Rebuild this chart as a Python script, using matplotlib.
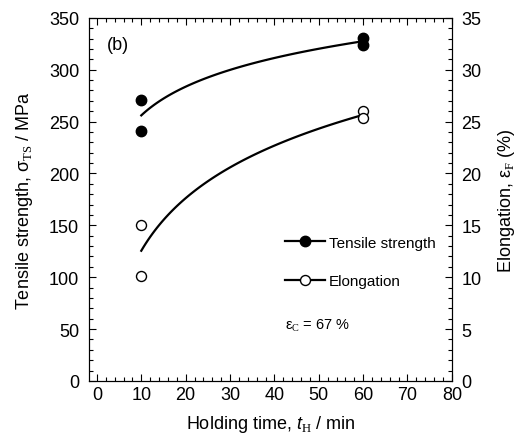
import numpy as np
import matplotlib
matplotlib.use("Agg")
import matplotlib.pyplot as plt
from matplotlib.lines import Line2D
from matplotlib.ticker import MultipleLocator

plt.rcParams['font.family'] = ['Liberation Sans', 'DejaVu Sans']
plt.rcParams['mathtext.fontset'] = 'custom'
plt.rcParams['mathtext.rm'] = 'Liberation Serif'
plt.rcParams['mathtext.it'] = 'Liberation Sans:italic'

# Data
time_ts = [10, 10, 60, 60]
tensile = [271, 241, 331, 324]          # MPa
time_el = [10, 10, 60, 60]
elong = [15.0, 10.1, 26.0, 25.3]        # %

fig = plt.figure(figsize=(5.17, 4.39), dpi=100)
ax = fig.add_axes([0.172, 0.130, 0.702, 0.827])
ax2 = ax.twinx()

ax.set_xlim(-1.8, 80)
ax.set_ylim(0, 350)
ax2.set_ylim(0, 35)

# Logarithmic fits
def logfit(x, y):
    x = np.asarray(x, float); y = np.asarray(y, float)
    b, a = np.polyfit(np.log(x), y, 1)
    xs = np.linspace(min(x), max(x), 100)
    return xs, a + b * np.log(xs)

xs, ys = logfit(time_ts, tensile)
ax.plot(xs, ys, color='black', lw=1.6)
xe, ye = logfit(time_el, elong)
ax2.plot(xe, ye, color='black', lw=1.6)

ax.plot(time_ts, tensile, 'o', color='black', ms=7.5, zorder=5)
ax2.plot(time_el, elong, 'o', mfc='white', mec='black', mew=1.0, ms=7.2, zorder=5)

ax.xaxis.set_major_locator(MultipleLocator(10))
ax.xaxis.set_minor_locator(MultipleLocator(2))
ax.yaxis.set_major_locator(MultipleLocator(50))
ax.yaxis.set_minor_locator(MultipleLocator(10))
ax2.yaxis.set_major_locator(MultipleLocator(5))
ax2.yaxis.set_minor_locator(MultipleLocator(1))

for a in (ax, ax2):
    a.tick_params(which='both', direction='in', labelsize=13, width=0.8)
    a.tick_params(which='major', length=5)
    a.tick_params(which='minor', length=3)
    a.tick_params(axis='y', which='major', pad=7)
ax.tick_params(which='both', top=True)
ax.tick_params(axis='y', which='both', right=False)

ax.set_xlabel(r'Holding time, $\mathit{t}_{\rm H}$ / min', fontsize=13, labelpad=7.5)
ax.set_ylabel(r'Tensile strength, σ$_{\rm TS}$ / MPa', fontsize=13, labelpad=10)
ax2.set_ylabel(r'Elongation, ε$_{\rm F}$ (%)', fontsize=13, labelpad=10)

ax.text(0.05, 0.915, '(b)', transform=ax.transAxes, fontsize=13)

handles = [Line2D([], [], color='black', lw=1.6, marker='o', ms=7.5, mfc='black', mec='black'),
           Line2D([], [], color='black', lw=1.6, marker='o', ms=7.2, mfc='white', mec='black')]
ax.legend(handles, ['Tensile strength', 'Elongation'], loc='upper left',
          bbox_to_anchor=(0.54, 0.40), frameon=False, fontsize=11,
          handlelength=2.6, handletextpad=0.3, labelspacing=1.6,
          borderpad=0, borderaxespad=0)

ax.text(0.54, 0.145, r'ε$_{\rm C}$ = 67 %', transform=ax.transAxes, fontsize=10.5)

fig.savefig('out.png', dpi=100)
